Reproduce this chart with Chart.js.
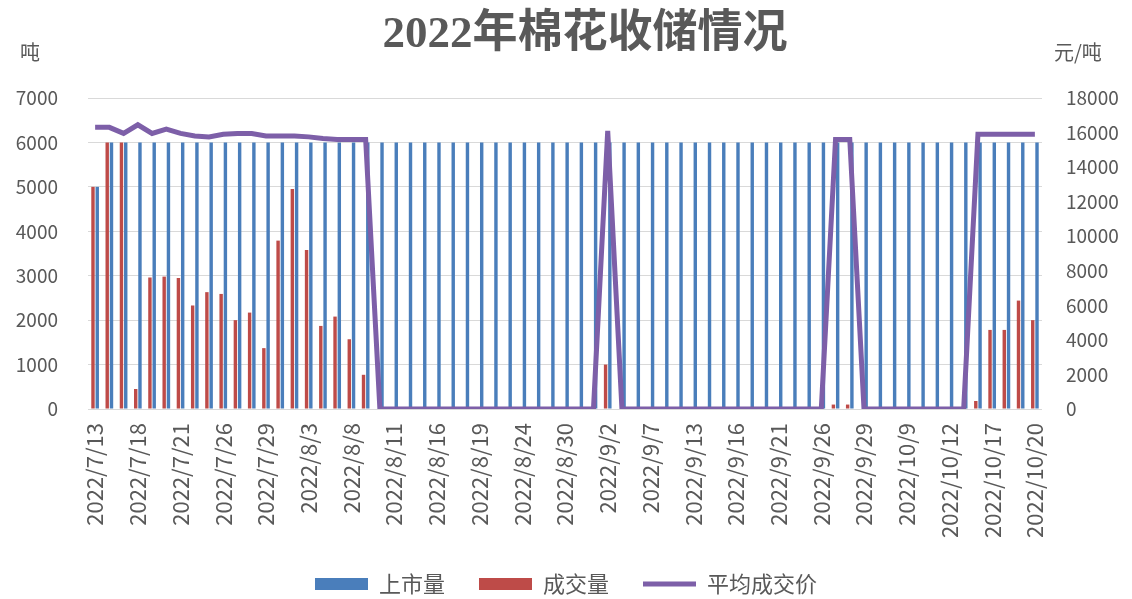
<!DOCTYPE html>
<html>
<head>
<meta charset="utf-8">
<title>2022年棉花收储情况</title>
<script src="https://cdn.jsdelivr.net/npm/chart.js@4.4.1/dist/chart.umd.min.js"></script>
<style>
    html, body { margin: 0; padding: 0; background: #fff; }
    #wrap { width: 1132px; height: 599px; position: relative; }
</style>
</head>
<body>
<div id="wrap"><canvas id="chart"></canvas></div>
<script>
// trading days shown on the axis (every 3rd one gets a label)
const dates = [
    '2022/7/13', '2022/7/14', '2022/7/15', '2022/7/18', '2022/7/19', '2022/7/20', '2022/7/21', '2022/7/22',
    '2022/7/25', '2022/7/26', '2022/7/27', '2022/7/28', '2022/7/29', '2022/8/1', '2022/8/2', '2022/8/3',
    '2022/8/4', '2022/8/5', '2022/8/8', '2022/8/9', '2022/8/10', '2022/8/11', '2022/8/12', '2022/8/15',
    '2022/8/16', '2022/8/17', '2022/8/18', '2022/8/19', '2022/8/22', '2022/8/23', '2022/8/24', '2022/8/26',
    '2022/8/29', '2022/8/30', '2022/8/31', '2022/9/1', '2022/9/2', '2022/9/5', '2022/9/6', '2022/9/7',
    '2022/9/8', '2022/9/9', '2022/9/13', '2022/9/14', '2022/9/15', '2022/9/16', '2022/9/19', '2022/9/20',
    '2022/9/21', '2022/9/22', '2022/9/23', '2022/9/26', '2022/9/27', '2022/9/28', '2022/9/29', '2022/9/30',
    '2022/10/8', '2022/10/9', '2022/10/10', '2022/10/11', '2022/10/12', '2022/10/13', '2022/10/14', '2022/10/17',
    '2022/10/18', '2022/10/19', '2022/10/20'
];

// 上市量 (吨)
const supply = [
    5000, 6000, 6000, 6000, 6000, 6000, 6000, 6000, 6000, 6000, 6000, 6000, 6000, 6000, 6000, 6000,
    6000, 6000, 6000, 6000, 6000, 6000, 6000, 6000, 6000, 6000, 6000, 6000, 6000, 6000, 6000, 6000,
    6000, 6000, 6000, 6000, 6000, 6000, 6000, 6000, 6000, 6000, 6000, 6000, 6000, 6000, 6000, 6000,
    6000, 6000, 6000, 6000, 6000, 6000, 6000, 6000, 6000, 6000, 6000, 6000, 6000, 6000, 6000, 6000,
    6000, 6000, 6000
];

// 成交量 (吨)
const deals = [
    5000, 6000, 6000, 450, 2960, 2980, 2950, 2330, 2630, 2590, 2000, 2170, 1370, 3790, 4950, 3580,
    1870, 2080, 1570, 770, 0, 0, 0, 0, 0, 0, 0, 0, 0, 0, 0, 0,
    0, 0, 0, 0, 1000, 0, 0, 0, 0, 0, 0, 0, 0, 0, 0, 0,
    0, 0, 0, 0, 100, 100, 0, 0, 0, 0, 0, 0, 0, 0, 180, 1780,
    1780, 2440, 2000
];

// 平均成交价 (元/吨)
const avgPrice = [
    16300, 16300, 15950, 16450, 15950, 16200, 15950, 15800, 15750, 15900, 15950, 15950, 15800, 15800, 15800, 15750,
    15650, 15600, 15600, 15600, 0, 0, 0, 0, 0, 0, 0, 0, 0, 0, 0, 0,
    0, 0, 0, 0, 16100, 0, 0, 0, 0, 0, 0, 0, 0, 0, 0, 0,
    0, 0, 0, 0, 15600, 15600, 0, 0, 0, 0, 0, 0, 0, 0, 15900, 15900,
    15900, 15900, 15900
];

const leftTicks = { min: 0, max: 7000, step: 1000 };
const rightTicks = { min: 0, max: 18000, step: 2000 };

const TITLE = '2022年棉花收储情况';
const TEXT = '#595959';
const FONT = '"Noto Sans CJK SC", "Noto Sans", sans-serif';

// title (sits a bit right of centre in the original) and unit labels above the value axes
const headerText = {
    id: 'headerText',
    afterDraw(chart) {
        const { ctx, chartArea } = chart;
        ctx.save();
        ctx.fillStyle = TEXT;
        ctx.textBaseline = 'middle';
        ctx.textAlign = 'center';
        ctx.font = 'bold 45px "Liberation Serif", "Noto Sans CJK SC", serif';
        ctx.fillText(TITLE, (chartArea.left + chartArea.right) / 2 + 20, chartArea.top - 63);
        ctx.font = '20px ' + FONT;
        ctx.textAlign = 'left';
        ctx.fillText('吨', chartArea.left - 68, chartArea.top - 46);
        ctx.fillText('元/吨', chartArea.right + 12, chartArea.top - 46);
        ctx.restore();
    }
};

new Chart(document.getElementById('chart'), {
    type: 'bar',
    data: {
        labels: dates,
        datasets: [
            { label: '上市量', data: supply, backgroundColor: '#4A7EBB', yAxisID: 'y', order: 2,
              pointStyle: 'rect', categoryPercentage: 0.6, barPercentage: 0.8 },
            { label: '成交量', data: deals, backgroundColor: '#BE4B48', yAxisID: 'y', order: 1,
              pointStyle: 'rect', categoryPercentage: 0.6, barPercentage: 0.8 },
            { label: '平均成交价', type: 'line', data: avgPrice, borderColor: '#7D5FA8', backgroundColor: '#7D5FA8',
              borderWidth: 5, pointRadius: 0, tension: 0, yAxisID: 'y1', order: 0, pointStyle: 'line' }
        ]
    },
    options: {
        responsive: true, maintainAspectRatio: false, animation: false,
        layout: { padding: { left: 0, right: 0, top: 98, bottom: -6 } },
        scales: {
            x: {
                grid: { display: false, drawTicks: false }, border: { display: false },
                ticks: {
                    color: TEXT, font: { family: FONT, size: 22 }, autoSkip: false,
                    maxRotation: 90, minRotation: 90, padding: 14,
                    callback: (v, i) => i % 3 === 0 ? dates[i] : ''
                },
                afterFit: s => { s.height = 130; }
            },
            y: {
                position: 'left', min: leftTicks.min, max: leftTicks.max,
                grid: { color: '#D9D9D9', drawTicks: false }, border: { display: false },
                ticks: { stepSize: leftTicks.step, color: TEXT, font: { family: FONT, size: 19 }, padding: 30,
                         callback: v => String(v) },
                afterFit: s => { s.width = 88; }
            },
            y1: {
                position: 'right', min: rightTicks.min, max: rightTicks.max,
                grid: { display: false, drawTicks: false }, border: { display: false },
                ticks: { stepSize: rightTicks.step, color: TEXT, font: { family: FONT, size: 19 }, padding: 24,
                         callback: v => String(v) },
                afterFit: s => { s.width = 90; }
            }
        },
        plugins: {
            title: { display: false },
            legend: {
                position: 'bottom',
                labels: {
                    usePointStyle: true, pointStyleWidth: 53, boxHeight: 12, padding: 34,
                    color: TEXT, font: { family: FONT, size: 22 },
                    sort: (a, b) => a.datasetIndex - b.datasetIndex
                }
            },
            tooltip: { enabled: false }
        }
    },
    plugins: [headerText]
});
</script>
</body>
</html>
